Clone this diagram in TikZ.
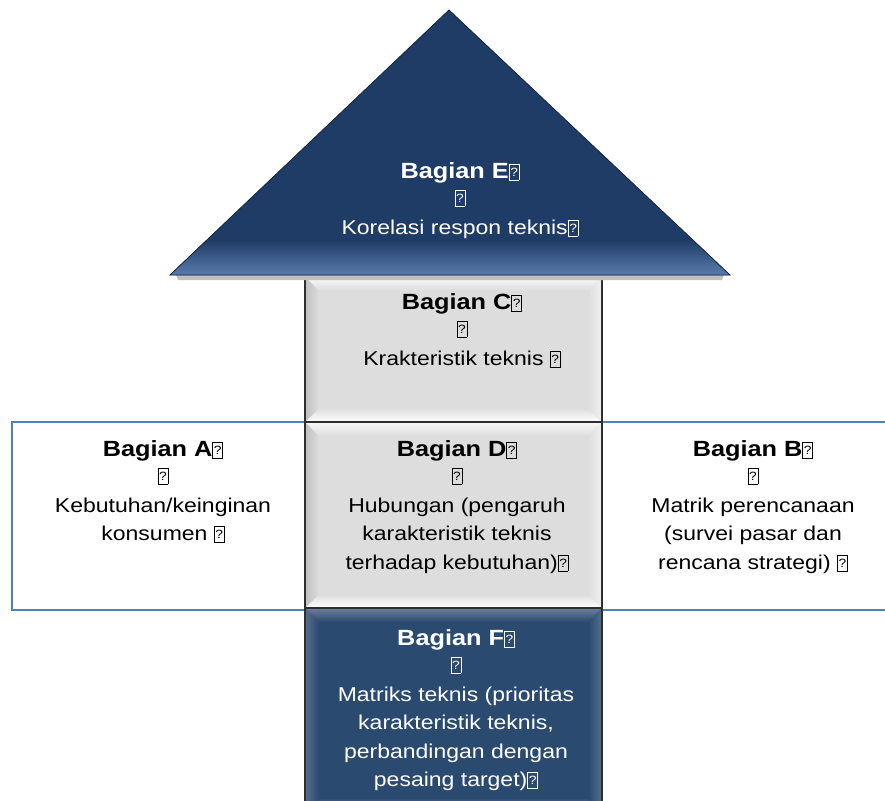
\documentclass[tikz,border=0pt]{standalone}
\usepackage{fontspec}
\setmainfont{Liberation Sans}[FakeStretch=1.15]
\usepackage{xcolor}

\definecolor{navy}{HTML}{1F3C66}
\definecolor{navylight}{HTML}{5A7DAE}
\definecolor{navybox}{HTML}{2B4A70}
\definecolor{panelblue}{HTML}{4F81BD}
\definecolor{bevelgray}{HTML}{DDDDDD}
\definecolor{bevelline}{HTML}{2E2E2E}

% missing-glyph box as printed in the source
\newcommand{\tofu}{{\mdseries\fboxsep=0.4pt\fboxrule=0.7pt\fbox{\makebox[8.5pt]{\rule[-1pt]{0pt}{14.5pt}\raisebox{2pt}{\fontsize{12}{12}\selectfont ?}}}}}
\newcommand{\judul}[1]{{\fontsize{22}{28.5}\selectfont\bfseries #1\tofu}}

% bevelled box: x1 y1 x2 y2 face topband bottomband leftband rightband
\newcommand{\bevelbox}[9]{%
  \fill[#5] (#1,#2) rectangle (#3,#4);
  \shade[top color=#6, bottom color=#5] (#1,#2) -- (#3,#2) -- (#3-14,#2+14) -- (#1+14,#2+14) -- cycle;
  \shade[top color=#5, bottom color=#7] (#1,#4) -- (#3,#4) -- (#3-14,#4-14) -- (#1+14,#4-14) -- cycle;
  \shade[left color=#8, right color=#5] (#1,#2) -- (#1+14,#2+14) -- (#1+14,#4-14) -- (#1,#4) -- cycle;
  \shade[left color=#5, right color=#9] (#3,#2) -- (#3-14,#2+14) -- (#3-14,#4-14) -- (#3,#4) -- cycle;
  \draw[bevelline, line width=2.8pt] (#1,#2) rectangle (#3,#4);
}

\tikzset{
  lbl/.style={align=center, inner sep=0pt, anchor=north, font=\fontsize{20}{28.5}\selectfont},
  panel/.style={draw=panelblue, line width=1.4pt, fill=white}
}

\begin{document}
\begin{tikzpicture}[x=1pt,y=-1pt]
\useasboundingbox (0,0) rectangle (885,800);
\clip (0,0) rectangle (885,800);

% side panels
\draw[panel] (12,422) rectangle (305,610);
\draw[panel] (602,422) rectangle (895,610);

% stem of the arrow
\bevelbox{305}{277}{602}{422}{bevelgray}{gray!5}{white}{gray!50}{gray!10}
\bevelbox{305}{422}{602}{608}{bevelgray}{gray!5}{white}{gray!50}{gray!10}
\bevelbox{305}{608}{602}{812}{navybox}{navybox!70!white}{navybox!55!white}{navybox!80!white}{navybox!80!white}

% arrow head
\fill[black!25] (176,275) -- (724,275) -- (722,280) -- (178,280) -- cycle;
\fill[navy] (170,275) -- (449,10) -- (730,275) -- cycle;
\begin{scope}
\clip (170,275) -- (449,10) -- (730,275) -- cycle;
\shade[top color=navy, bottom color=navylight] (150,240) rectangle (750,276);
\end{scope}
\draw[navy!60!black, line width=0.8pt] (170,275) -- (449,10) -- (730,275) -- cycle;

% texts
\node[lbl, text=white] (partE) at (460,162) {\judul{Bagian E}\\[-2pt] \tofu\\[1pt] Korelasi respon teknis\tofu};
\node[lbl] (partC) at (462,293) {\judul{Bagian C}\\[-2pt] \tofu\\[1pt] Krakteristik teknis \tofu};
\node[lbl] (partA) at (163,440) {\judul{Bagian A}\\[-2pt] \tofu\\[1pt] Kebutuhan/keinginan\\ konsumen \tofu};
\node[lbl] (partD) at (457,440) {\judul{Bagian D}\\[-2pt] \tofu\\[1pt] Hubungan (pengaruh\\ karakteristik teknis\\ terhadap kebutuhan)\tofu};
\node[lbl] (partB) at (753,440) {\judul{Bagian B}\\[-2pt] \tofu\\[1pt] Matrik perencanaan\\ (survei pasar dan\\ rencana strategi) \tofu};
\node[lbl, text=white] (partF) at (456,629) {\judul{Bagian F}\\[-2pt] \tofu\\[1pt] Matriks teknis (prioritas\\ karakteristik teknis,\\ perbandingan dengan\\ pesaing target)\tofu};
\end{tikzpicture}
\end{document}
